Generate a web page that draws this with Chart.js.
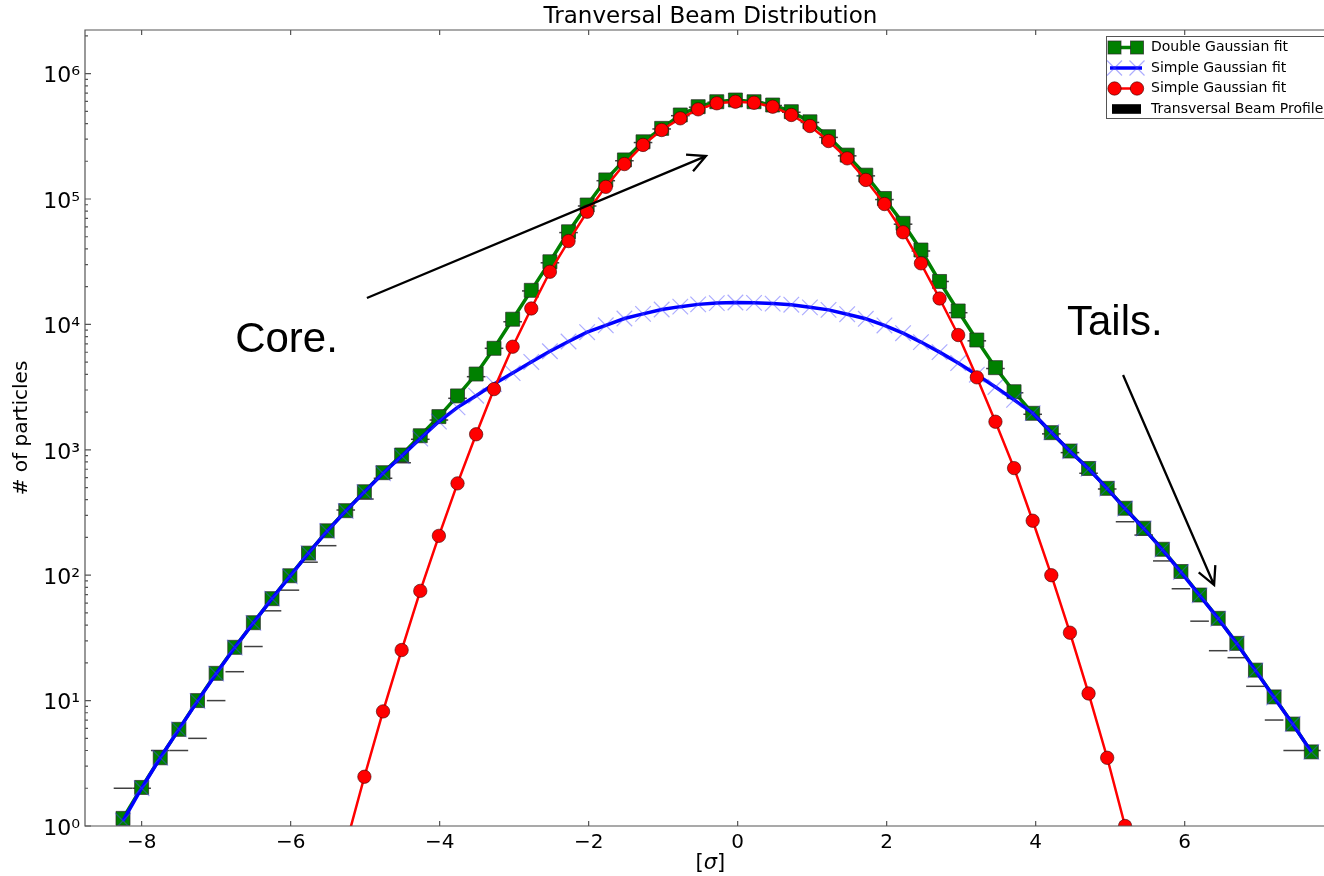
<!DOCTYPE html>
<html>
<head>
<meta charset="utf-8">
<script src="https://cdn.jsdelivr.net/npm/chart.js@4/dist/chart.umd.min.js"></script>
<style>
  html, body { margin: 0; padding: 0; background: #fff; overflow: hidden; }
</style>
</head>
<body>
<canvas id="beamChart" width="1324" height="876"></canvas>
<script>
// bin centres, in units of sigma
const sigma = [
  -8.25, -8.00, -7.75, -7.50, -7.25, -7.00, -6.75, -6.50, -6.25, -6.01,
  -5.76, -5.51, -5.26, -5.01, -4.76, -4.51, -4.26, -4.01, -3.76, -3.51,
  -3.27, -3.02, -2.77, -2.52, -2.27, -2.02, -1.77, -1.52, -1.27, -1.02,
  -0.77, -0.53, -0.28, -0.03, 0.22, 0.47, 0.72, 0.97, 1.22, 1.47,
  1.72, 1.97, 2.22, 2.46, 2.71, 2.96, 3.21, 3.46, 3.71, 3.96,
  4.21, 4.46, 4.71, 4.96, 5.20, 5.45, 5.70, 5.95, 6.20, 6.45,
  6.70, 6.95, 7.20, 7.45, 7.70
];

const doubleFit = [
  1.15, 2.03, 3.5, 5.9, 10, 16.5, 26.6, 41.8, 65, 99,
  150, 226, 327, 463, 657, 909, 1295, 1840, 2690, 4020,
  6450, 11000, 18700, 31600, 54800, 89600, 142000, 205000, 286000, 366000,
  468000, 545000, 597000, 616000, 597000, 562000, 497000, 413000, 314000, 224000,
  155000, 101000, 64000, 39200, 22000, 12800, 7510, 4520, 2906, 1955,
  1370, 978, 710, 493, 342, 237, 161, 107, 69.5, 45.3,
  28.6, 17.5, 10.7, 6.5, 3.9
];

const tailFit = [
  1.1, 2.0, 3.5, 5.9, 9.9, 16.4, 26.5, 41.7, 65, 98,
  150, 225, 325, 460, 650, 890, 1230, 1680, 2180, 2700,
  3350, 4090, 5020, 6110, 7310, 8670, 9840, 11150, 12130, 13150,
  13860, 14450, 14790, 14960, 14860, 14650, 14360, 13680, 13060, 12060,
  11090, 9810, 8510, 7230, 6010, 4920, 3970, 3170, 2500, 1960,
  1380, 975, 705, 490, 340, 236, 160, 106, 69, 45,
  28.5, 17.4, 10.6, 6.5, 3.9
];

const coreFit = [
  null, null, null, null, null, null, null, null, null, null,
  null, null, 0.7, 2.47, 8.2, 25.3, 75, 206, 540, 1330,
  3050, 6640, 13400, 26300, 46200, 79200, 125000, 190000, 270000, 355000,
  440000, 519000, 580000, 597000, 586000, 545000, 468000, 382000, 290000, 211000,
  142000, 91200, 54300, 30700, 16100, 8230, 3785, 1675, 715, 272,
  100, 34.8, 11.4, 3.5, 1.0, null, null, null, null, null,
  null, null, null, null, null
];

const profile = [
  2, 2, 4, 4, 5, 10, 17, 27, 52, 76,
  127, 172, 331, 405, 593, 789, 1213, 1728, 2575, 3830,
  6450, 10500, 18500, 31000, 54000, 88000, 140000, 202000, 282000, 362000,
  462000, 540000, 592000, 612000, 593000, 557000, 492000, 408000, 310000, 221000,
  153000, 99000, 63000, 38500, 22000, 12400, 7400, 4450, 2850, 1920,
  1340, 950, 650, 487, 267, 209, 130, 78, 43, 25,
  22, 13, 7, 4, 4
];

const xTicks = [-8, -6, -4, -2, 0, 2, 4, 6];
const xTickLabels = ['\u22128', '\u22126', '\u22124', '\u22122', '0', '2', '4', '6'];
const yTicks = [1, 10, 100, 1000, 10000, 100000, 1000000];
const yTickLabels = ['10\u2070', '10\u00b9', '10\u00b2', '10\u00b3', '10\u2074', '10\u2075', '10\u2076'];
const legendLabels = ['Double Gaussian fit', 'Simple Gaussian fit', 'Simple Gaussian fit', 'Transversal Beam Profile'];

// the original axes run a little past the right edge of the picture
const xMin = -8.76;
const xMax = 7.87;
const axesXMax = 8.03;

const axisColor = '#555';
const font = '"DejaVu Sans", sans-serif';
Chart.defaults.font.family = font;
Chart.defaults.color = '#000';

const toPoints = (ys) => sigma.map((x, i) => ({ x, y: ys[i] }));

// arrows and labels, anchored in data units
const notes = [
  { text: 'Core.', x: -6.745, y: 6025, from: [-4.976, 16250], to: [-0.425, 220000] },
  { text: 'Tails.', x: 4.42, y: 8240, from: [5.173, 3950], to: [6.395, 83.5] }
];

function drawArrow(ctx, x0, y0, x1, y1) {
  const ang = Math.atan2(y1 - y0, x1 - x0);
  const head = 20;
  const spread = 0.47;
  ctx.beginPath();
  ctx.moveTo(x0, y0);
  ctx.lineTo(x1, y1);
  ctx.moveTo(x1 - head * Math.cos(ang - spread), y1 - head * Math.sin(ang - spread));
  ctx.lineTo(x1, y1);
  ctx.lineTo(x1 - head * Math.cos(ang + spread), y1 - head * Math.sin(ang + spread));
  ctx.stroke();
}

function drawSquare(ctx, x, y, s, fill) {
  ctx.fillStyle = fill;
  ctx.strokeStyle = 'rgba(40,40,40,0.7)';
  ctx.lineWidth = 1;
  ctx.fillRect(x - s / 2, y - s / 2, s, s);
  ctx.strokeRect(x - s / 2, y - s / 2, s, s);
}

function drawCircle(ctx, x, y, r, fill) {
  ctx.beginPath();
  ctx.arc(x, y, r, 0, Math.PI * 2);
  ctx.fillStyle = fill;
  ctx.fill();
  ctx.strokeStyle = 'rgba(60,0,0,0.6)';
  ctx.lineWidth = 1;
  ctx.stroke();
}

function drawCross(ctx, x, y, r) {
  ctx.beginPath();
  ctx.moveTo(x - r, y - r);
  ctx.lineTo(x + r, y + r);
  ctx.moveTo(x - r, y + r);
  ctx.lineTo(x + r, y - r);
  ctx.strokeStyle = 'rgba(70,70,255,0.45)';
  ctx.lineWidth = 1.2;
  ctx.stroke();
}

const decorations = {
  id: 'decorations',
  afterDatasetsDraw(chart) {
    const { ctx, chartArea: a, scales } = chart;
    ctx.save();
    ctx.strokeStyle = axisColor;
    ctx.lineWidth = 1.2;
    ctx.beginPath();
    ctx.moveTo(a.right + 2, a.top);
    ctx.lineTo(a.left, a.top);
    ctx.lineTo(a.left, a.bottom);
    ctx.lineTo(a.right + 2, a.bottom);
    ctx.stroke();

    // inward ticks
    ctx.beginPath();
    for (const v of xTicks) {
      const px = scales.x.getPixelForValue(v);
      ctx.moveTo(px, a.bottom); ctx.lineTo(px, a.bottom - 5);
      ctx.moveTo(px, a.top); ctx.lineTo(px, a.top + 5);
    }
    for (const v of yTicks) {
      const py = scales.y.getPixelForValue(v);
      ctx.moveTo(a.left, py); ctx.lineTo(a.left + 6, py);
    }
    for (let d = 1; d <= 1000000; d *= 10) {
      for (let k = 2; k <= 9; k++) {
        const v = k * d;
        if (v > scales.y.max) break;
        const py = scales.y.getPixelForValue(v);
        ctx.moveTo(a.left, py); ctx.lineTo(a.left + 3, py);
      }
    }
    ctx.stroke();
    ctx.restore();
  },
  afterDraw(chart) {
    const { ctx, chartArea: a, scales } = chart;
    const midX = (a.left + scales.x.getPixelForValue(axesXMax)) / 2;
    ctx.save();

    // title
    ctx.fillStyle = '#000';
    ctx.font = '23px ' + font;
    ctx.textAlign = 'center';
    ctx.textBaseline = 'middle';
    ctx.fillText('Tranversal Beam Distribution', midX, 17);

    // x label: [sigma] with an italic sigma
    ctx.textBaseline = 'alphabetic';
    ctx.textAlign = 'left';
    const upright = '21px ' + font;
    const italic = 'italic 21px ' + font;
    ctx.font = upright;
    const wb = ctx.measureText('[').width;
    ctx.font = italic;
    const ws = ctx.measureText('\u03c3').width;
    const tx = midX - (2 * wb + ws) / 2;
    const ty = 869;
    ctx.font = upright;
    ctx.fillText('[', tx, ty);
    ctx.font = italic;
    ctx.fillText('\u03c3', tx + wb, ty);
    ctx.font = upright;
    ctx.fillText(']', tx + wb + ws, ty);

    // annotations
    ctx.strokeStyle = '#000';
    ctx.lineWidth = 2.3;
    ctx.font = '42px "Liberation Sans", Arial, sans-serif';
    for (const n of notes) {
      ctx.fillText(n.text, scales.x.getPixelForValue(n.x), scales.y.getPixelForValue(n.y));
      drawArrow(ctx,
        scales.x.getPixelForValue(n.from[0]), scales.y.getPixelForValue(n.from[1]),
        scales.x.getPixelForValue(n.to[0]), scales.y.getPixelForValue(n.to[1]));
    }

    // legend
    const lx = 1106.5, ly = 36.5, lw = 226, lh = 82;
    ctx.fillStyle = '#fff';
    ctx.fillRect(lx, ly, lw, lh);
    ctx.strokeStyle = axisColor;
    ctx.lineWidth = 1;
    ctx.strokeRect(lx, ly, lw, lh);
    const rows = [47.5, 68, 88.5, 109];
    const h0 = 1110, h1 = 1142, m0 = 1114.5, m1 = 1137;

    ctx.lineWidth = 3.5;
    ctx.strokeStyle = '#008000';
    ctx.beginPath(); ctx.moveTo(h0, rows[0]); ctx.lineTo(h1, rows[0]); ctx.stroke();
    drawSquare(ctx, m0, rows[0], 13, '#008000');
    drawSquare(ctx, m1, rows[0], 13, '#008000');

    ctx.lineWidth = 3.5;
    ctx.strokeStyle = '#0000ff';
    ctx.beginPath(); ctx.moveTo(h0, rows[1]); ctx.lineTo(h1, rows[1]); ctx.stroke();
    drawCross(ctx, m0, rows[1], 7.5);
    drawCross(ctx, m1, rows[1], 7.5);

    ctx.lineWidth = 2.5;
    ctx.strokeStyle = '#ff0000';
    ctx.beginPath(); ctx.moveTo(h0, rows[2]); ctx.lineTo(h1, rows[2]); ctx.stroke();
    drawCircle(ctx, m0, rows[2], 6.7, '#ff0000');
    drawCircle(ctx, m1, rows[2], 6.7, '#ff0000');

    ctx.fillStyle = '#000';
    ctx.fillRect(1112, rows[3] - 4.8, 29, 9.6);

    ctx.fillStyle = '#000';
    ctx.font = '14px ' + font;
    ctx.textAlign = 'left';
    ctx.textBaseline = 'middle';
    legendLabels.forEach((t, i) => ctx.fillText(t, 1151, rows[i]));
    ctx.restore();
  }
};

new Chart(document.getElementById('beamChart'), {
  type: 'line',
  data: {
    datasets: [
      {
        label: legendLabels[2],
        data: toPoints(coreFit),
        borderColor: '#ff0000',
        borderWidth: 2.5,
        pointStyle: 'circle',
        pointRadius: 6.7,
        pointBackgroundColor: '#ff0000',
        pointBorderColor: 'rgba(60,0,0,0.6)',
        pointBorderWidth: 1,
        order: 0
      },
      {
        label: legendLabels[1],
        data: toPoints(tailFit),
        borderColor: '#0000ff',
        borderWidth: 3.5,
        pointStyle: 'crossRot',
        pointRadius: 11,
        pointBorderColor: 'rgba(70,70,255,0.45)',
        pointBorderWidth: 1.2,
        order: 1
      },
      {
        label: legendLabels[0],
        data: toPoints(doubleFit),
        borderColor: '#008000',
        borderWidth: 3.5,
        pointStyle: 'rect',
        pointRadius: 9.9,
        pointBackgroundColor: '#008000',
        pointBorderColor: 'rgba(40,40,40,0.7)',
        pointBorderWidth: 1,
        order: 2
      },
      {
        label: legendLabels[3],
        data: toPoints(profile),
        showLine: false,
        pointStyle: 'line',
        pointRadius: 9.3,
        pointBorderColor: '#404040',
        pointBorderWidth: 1.5,
        order: 3
      }
    ]
  },
  options: {
    responsive: false,
    animation: false,
    events: [],
    layout: { autoPadding: false, padding: { top: 30, right: 0, left: 0, bottom: 0 } },
    elements: { line: { tension: 0 } },
    plugins: {
      legend: { display: false },
      tooltip: { enabled: false },
      title: { display: false }
    },
    scales: {
      x: {
        type: 'linear',
        min: xMin,
        max: xMax,
        grid: { display: false, drawTicks: false },
        border: { display: false },
        afterBuildTicks: (scale) => { scale.ticks = xTicks.map((v) => ({ value: v })); },
        afterFit: (scale) => { scale.height = 50; },
        ticks: {
          color: '#000',
          font: { size: 20 },
          padding: 5,
          autoSkip: false,
          maxRotation: 0,
          callback: (v) => xTickLabels[xTicks.indexOf(v)] ?? ''
        }
      },
      y: {
        type: 'logarithmic',
        min: 1,
        max: 2228000,
        grid: { display: false, drawTicks: false },
        border: { display: false },
        afterBuildTicks: (scale) => { scale.ticks = yTicks.map((v) => ({ value: v })); },
        afterFit: (scale) => { scale.width = 85; },
        ticks: {
          color: '#000',
          font: { size: 22 },
          padding: 5,
          labelOffset: 3,
          autoSkip: false,
          callback: (v) => yTickLabels[yTicks.indexOf(v)] ?? ''
        },
        title: {
          display: true,
          text: '# of particles',
          color: '#000',
          font: { size: 20 },
          padding: { top: 10, bottom: 0 }
        }
      }
    }
  },
  plugins: [decorations]
});
</script>
</body>
</html>
